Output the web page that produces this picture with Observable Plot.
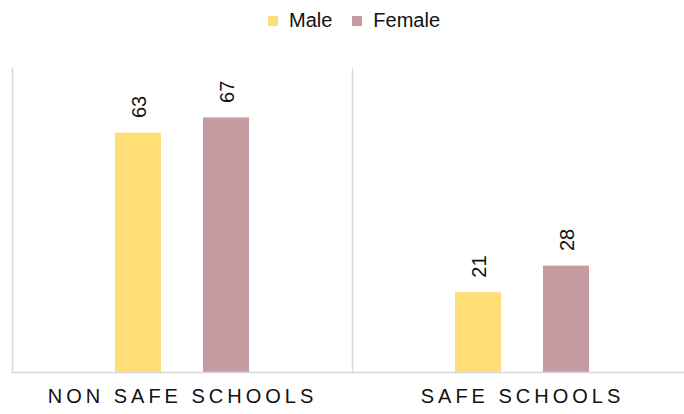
<!DOCTYPE html>
<html>
<head>
<meta charset="utf-8">
<script src="https://cdn.jsdelivr.net/npm/d3@7"></script>
<script src="https://cdn.jsdelivr.net/npm/@observablehq/plot@0.6"></script>
<style>
  html, body { margin: 0; padding: 0; background: #fff; }
  body { width: 684px; height: 414px; overflow: hidden; font-family: "Liberation Sans", Arial, sans-serif; }
  #legend { height: 40px; display: flex; align-items: center; padding-left: 268px; box-sizing: border-box; font-size: 20px; color: #111; }
  .item { display: flex; align-items: center; margin-right: 20px; }
  .sw { width: 10px; height: 10px; margin-right: 11px; margin-top: 2px; }
  #chart svg [aria-label="fx-axis tick label"] text { letter-spacing: 4px; }
</style>
</head>
<body>
<div id="legend"></div>
<div id="chart"></div>
<script>
const groups = ["NON SAFE SCHOOLS", "SAFE SCHOOLS"];
const series = ["Male", "Female"];
const maleValues = [63, 21];
const femaleValues = [67, 28];
const colors = ["#FFDD77", "#C79BA2"];

const data = [];
groups.forEach((g, i) => {
  data.push({group: g, sex: "Male", value: maleValues[i]});
  data.push({group: g, sex: "Female", value: femaleValues[i]});
});

const legend = document.getElementById("legend");
series.forEach((s, i) => {
  const it = document.createElement("div");
  it.className = "item";
  const sw = document.createElement("div");
  sw.className = "sw";
  sw.style.background = colors[i];
  const t = document.createElement("span");
  t.textContent = s;
  it.appendChild(sw);
  it.appendChild(t);
  legend.appendChild(it);
});

const chart = Plot.plot({
  width: 684,
  height: 374,
  marginTop: 28,
  marginBottom: 42,
  marginLeft: 12,
  marginRight: -8,
  style: {fontFamily: "'Liberation Sans', Arial, sans-serif", color: "#111", background: "#fff"},
  fx: {domain: groups, padding: 0, label: null},
  x: {domain: series, paddingInner: 0.477, paddingOuter: 1.17, align: 0.5, axis: null},
  y: {domain: [0, 80], axis: null},
  color: {domain: series, range: colors},
  marks: [
    Plot.axisFx({tickSize: 0, tickPadding: 16, fontSize: 20, label: null, anchor: "bottom", dx: 0}),
    Plot.frame({anchor: "left", stroke: "#d9d9d9", strokeWidth: 1.5}),
    Plot.barY(data, {fx: "group", x: "sex", y: "value", fill: "sex"}),
    Plot.ruleY([0], {stroke: "#d9d9d9", strokeWidth: 1.5}),
    Plot.text(data, {fx: "group", x: "sex", y: "value", text: d => String(d.value), rotate: -90, textAnchor: "start", lineAnchor: "middle", dy: -15, dx: 1, fontSize: 20, fill: "#111"})
  ]
});
document.getElementById("chart").appendChild(chart);
</script>
</body>
</html>
